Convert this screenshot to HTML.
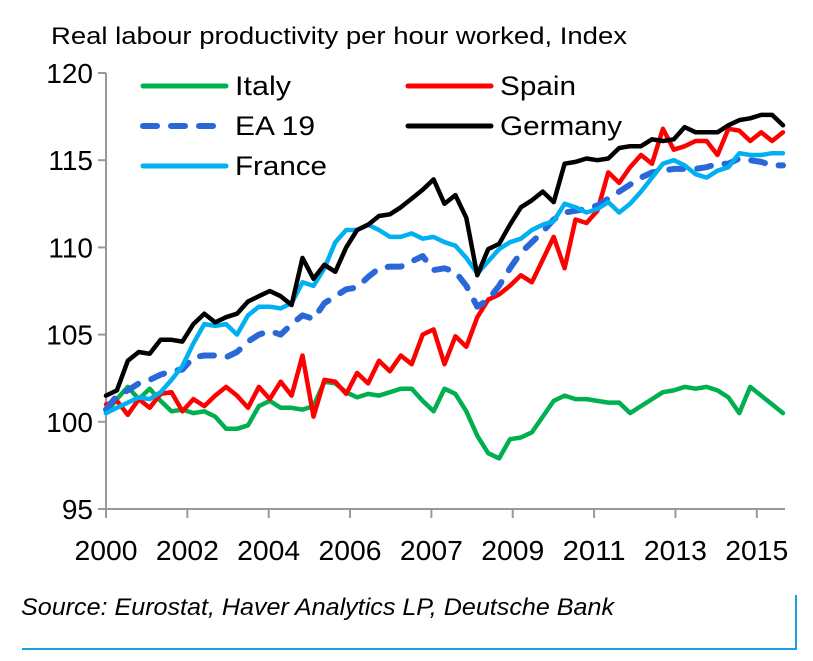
<!DOCTYPE html>
<html><head><meta charset="utf-8"><style>
html,body{margin:0;padding:0;background:#fff;width:813px;height:661px;overflow:hidden}
svg{display:block;font-family:"Liberation Sans",Arial,sans-serif}
</style></head><body>
<svg id="chart" width="813" height="661" viewBox="0 0 813 661">
<text x="51" y="44" font-size="24" textLength="576" lengthAdjust="spacingAndGlyphs" fill="#000">Real labour productivity per hour worked, Index</text>
<g id="axes"></g>
<g id="series"></g>
<g id="legend" font-size="27" fill="#000">
<line x1="143" y1="86" x2="226" y2="86" stroke="#00b050" stroke-width="5" stroke-linecap="round"/>
<text x="235" y="95" textLength="56" lengthAdjust="spacingAndGlyphs">Italy</text>
<line x1="408" y1="86" x2="491" y2="86" stroke="#ff0000" stroke-width="5" stroke-linecap="round"/>
<text x="500" y="95" textLength="76" lengthAdjust="spacingAndGlyphs">Spain</text>
<line x1="143" y1="126" x2="226" y2="126" stroke="#2a67d9" stroke-width="6" stroke-dasharray="14,14" stroke-linecap="round"/>
<text x="235" y="135" textLength="80" lengthAdjust="spacingAndGlyphs">EA 19</text>
<line x1="408" y1="126" x2="491" y2="126" stroke="#000" stroke-width="5" stroke-linecap="round"/>
<text x="500" y="135" textLength="122" lengthAdjust="spacingAndGlyphs">Germany</text>
<line x1="143" y1="166" x2="226" y2="166" stroke="#00b0f0" stroke-width="5" stroke-linecap="round"/>
<text x="235" y="175" textLength="92" lengthAdjust="spacingAndGlyphs">France</text>
</g>
<text x="21" y="615" font-size="24" font-style="italic" textLength="593" lengthAdjust="spacingAndGlyphs" fill="#000">Source: Eurostat, Haver Analytics LP, Deutsche Bank</text>
<line x1="22" y1="649" x2="797" y2="649" stroke="#1aa0e0" stroke-width="2"/>
<line x1="796" y1="595" x2="796" y2="650" stroke="#1aa0e0" stroke-width="2"/>
</svg>
<script>
const yTicks=[95,100,105,110,115,120];
const xTickLabels=["2000","2002","2004","2006","2007","2009","2011","2013","2015"];
const xTickIndex=[0,7.45,14.9,22.35,29.8,37.25,44.7,52.15,59.6];
const italy=[100.5,101.3,102.0,101.3,101.9,101.2,100.6,100.7,100.5,100.6,100.3,99.6,99.6,99.8,100.9,101.2,100.8,100.8,100.7,100.9,102.3,102.2,101.7,101.4,101.6,101.5,101.7,101.9,101.9,101.2,100.6,101.9,101.6,100.6,99.2,98.2,97.9,99.0,99.1,99.4,100.3,101.2,101.5,101.3,101.3,101.2,101.1,101.1,100.5,100.9,101.3,101.7,101.8,102.0,101.9,102.0,101.8,101.4,100.5,102.0,101.5,101.0,100.5];
const spain=[101.0,101.2,100.4,101.3,100.8,101.6,101.7,100.6,101.3,100.9,101.5,102.0,101.5,100.8,102.0,101.3,102.3,101.5,103.8,100.3,102.4,102.3,101.6,102.8,102.2,103.5,102.9,103.8,103.3,105.0,105.3,103.3,104.9,104.3,106.0,107.0,107.3,107.8,108.4,108.0,109.3,110.6,108.8,111.6,111.4,112.1,114.3,113.7,114.6,115.3,114.8,116.8,115.6,115.8,116.1,116.1,115.3,116.8,116.7,116.1,116.6,116.1,116.6];
const germany=[101.5,101.8,103.5,104.0,103.9,104.7,104.7,104.6,105.6,106.2,105.7,106.0,106.2,106.9,107.2,107.5,107.2,106.7,109.4,108.2,109.0,108.6,110.0,111.0,111.3,111.8,111.9,112.3,112.8,113.3,113.9,112.5,113.0,111.7,108.4,109.9,110.2,111.3,112.3,112.7,113.2,112.6,114.8,114.9,115.1,115.0,115.1,115.7,115.8,115.8,116.2,116.1,116.2,116.9,116.6,116.6,116.6,117.0,117.3,117.4,117.6,117.6,117.0];
const france=[100.5,100.8,101.1,101.4,101.3,101.7,102.4,103.2,104.5,105.6,105.5,105.6,105.0,106.1,106.6,106.6,106.5,106.8,108.0,107.8,108.8,110.3,111.0,111.0,111.3,111.0,110.6,110.6,110.8,110.5,110.6,110.3,110.1,109.4,108.5,109.2,109.9,110.3,110.5,111.0,111.3,111.5,112.5,112.3,112.0,112.2,112.6,112.0,112.5,113.2,114.0,114.8,115.0,114.7,114.2,114.0,114.4,114.6,115.4,115.3,115.3,115.4,115.4];
const ea19=[100.7,101.5,101.8,102.2,102.4,102.7,102.9,103.0,103.7,103.8,103.8,103.7,104.0,104.6,105.0,105.2,105.0,105.6,106.1,105.9,106.8,107.2,107.6,107.7,108.3,108.8,108.9,108.9,109.2,109.5,108.7,108.8,108.6,107.8,106.6,107.0,107.8,108.8,109.7,110.3,110.9,111.6,112.0,112.1,112.2,112.4,112.8,113.2,113.6,114.0,114.3,114.4,114.5,114.5,114.5,114.6,114.8,114.8,115.1,115.0,114.9,114.7,114.7];

const NS="http://www.w3.org/2000/svg";
const X0=106,X1=783,Y0=509,Y1=73,VMIN=95,VMAX=120;
const N=germany.length;
function xs(i){return X0+(X1-X0)*i/(N-1);}
function ys(v){return Y0-(v-VMIN)/(VMAX-VMIN)*(Y0-Y1);}
function mk(t,a){const e=document.createElementNS(NS,t);for(const k in a)e.setAttribute(k,a[k]);return e;}
const axes=document.getElementById('axes');
let yl=mk('line',{x1:X0,y1:Y1,x2:X0,y2:Y0,stroke:'#999','stroke-width':2});


axes.appendChild(yl);
let xl=mk('line',{x1:X0-8,y1:Y0,x2:785,y2:Y0,stroke:'#999','stroke-width':2});


axes.appendChild(xl);
yTicks.forEach(v=>{
  const y=ys(v);
  const t=mk('line',{x1:X0-8,y1:y,x2:X0,y2:y,stroke:'#999','stroke-width':2});
  
  
  axes.appendChild(t);
  const l=mk('text',{x:93,y:y+10,'text-anchor':'end','font-size':28,fill:'#000'});
  l.textContent=v;
  
  
  axes.appendChild(l);
});
xTickLabels.forEach((s,k)=>{
  const x=xs(xTickIndex[k]);
  const t=mk('line',{x1:x,y1:Y0,x2:x,y2:Y0+9,stroke:'#999','stroke-width':2});
  
  
  axes.appendChild(t);
  const l=mk('text',{x:x,y:560,'text-anchor':'middle','font-size':28,textLength:63,lengthAdjust:'spacingAndGlyphs',fill:'#000'});
  l.textContent=s;
  
  
  axes.appendChild(l);
});
const g=document.getElementById('series');
function draw(arr,color,name,dash){
  const d=arr.map((v,i)=>(i?'L':'M')+xs(i).toFixed(1)+','+ys(v).toFixed(1)).join('');
  const p=mk('path',{d:d,fill:'none',stroke:color,'stroke-width':dash?6:4.5,'stroke-linejoin':'round','stroke-linecap':'round'});
  if(dash)p.setAttribute('stroke-dasharray','14,14');
  
  
  g.appendChild(p);
}
draw(italy,'#00b050','italy-line');
draw(spain,'#ff0000','spain-line');
draw(ea19,'#2a67d9','ea19-line',true);
draw(france,'#00b0f0','france-line');
draw(germany,'#000000','germany-line');
</script>
</body></html>
